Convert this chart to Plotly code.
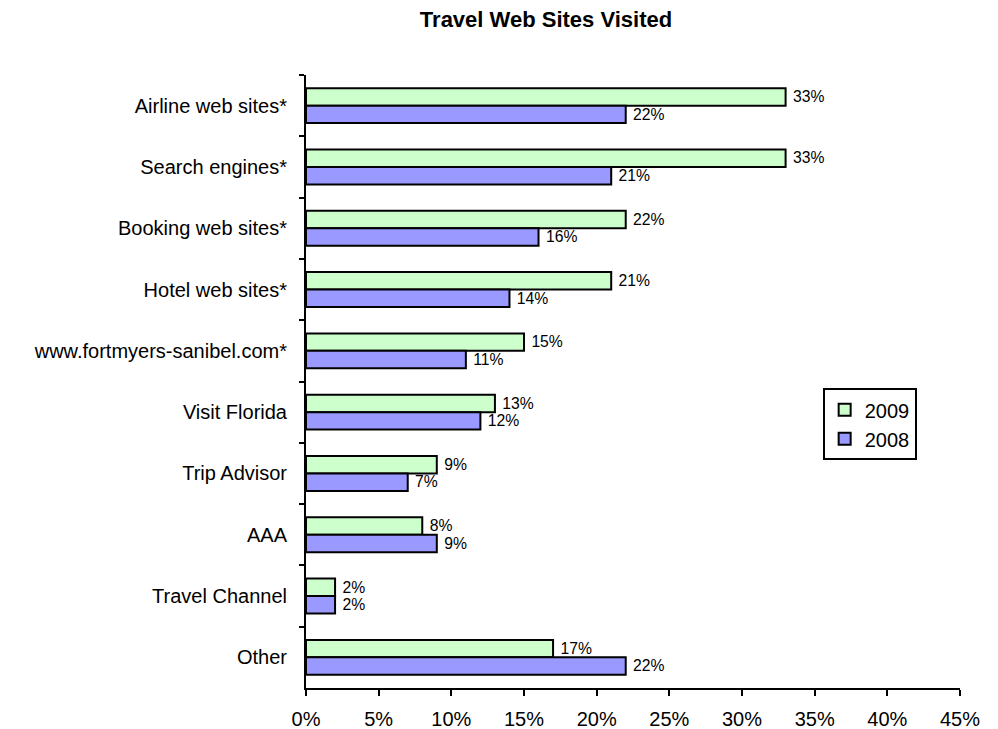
import plotly.graph_objects as go

categories = ["Airline web sites*", "Search engines*", "Booking web sites*", "Hotel web sites*",
              "www.fortmyers-sanibel.com*", "Visit Florida", "Trip Advisor", "AAA",
              "Travel Channel", "Other"]
values_2009 = [0.33, 0.33, 0.22, 0.21, 0.15, 0.13, 0.09, 0.08, 0.02, 0.17]
values_2008 = [0.22, 0.21, 0.16, 0.14, 0.11, 0.12, 0.07, 0.09, 0.02, 0.22]
x_ticks = [0, 0.05, 0.10, 0.15, 0.20, 0.25, 0.30, 0.35, 0.40, 0.45]

FONT = "Liberation Sans, Arial, sans-serif"

fig = go.Figure()
fig.add_trace(go.Bar(
    y=categories, x=values_2009, name="2009", orientation="h",
    marker=dict(color="#CCFFCC", line=dict(color="black", width=2)),
    texttemplate=" %{x:.0%}", textposition="outside", cliponaxis=False,
    textfont=dict(family=FONT, size=18, color="black"),
))
fig.add_trace(go.Bar(
    y=categories, x=values_2008, name="2008", orientation="h",
    marker=dict(color="#9999FF", line=dict(color="black", width=2)),
    texttemplate=" %{x:.0%}", textposition="outside", cliponaxis=False,
    textfont=dict(family=FONT, size=18, color="black"),
))

fig.update_layout(
    width=990, height=721,
    paper_bgcolor="white", plot_bgcolor="white",
    font=dict(family=FONT, size=20, color="black"),
    title=dict(text="<b>Travel Web Sites Visited</b>", x=538/990, xanchor="center",
               y=1 - 11.5/721, yanchor="middle", font=dict(family=FONT, size=22, color="black")),
    margin=dict(l=298, r=38, t=67, b=41, autoexpand=False),
    barmode="group", bargap=0.43, bargroupgap=0,
    showlegend=True,
    legend=dict(x=0.79, y=0.489, xanchor="left", yanchor="top",
                bordercolor="black", borderwidth=2, bgcolor="white",
                font=dict(family=FONT, size=20, color="black"),
                traceorder="normal", itemwidth=30),
    xaxis=dict(range=[0, 0.45], tickvals=x_ticks, tickformat=".0%",
               showline=True, linecolor="black", linewidth=2,
               ticks="outside", ticklen=6, tickcolor="black", tickwidth=2,
               showgrid=False, zeroline=False, ticklabelstandoff=6,
               tickfont=dict(family=FONT, size=20, color="black")),
    yaxis=dict(autorange="reversed", showline=True, linecolor="black", linewidth=2,
               ticks="outside", ticklen=5, tickcolor="black", tickwidth=2,
               tickson="boundaries", showgrid=False,
               ticklabelstandoff=13,
               tickfont=dict(family=FONT, size=20, color="black")),
)

fig.write_html("out.html")
